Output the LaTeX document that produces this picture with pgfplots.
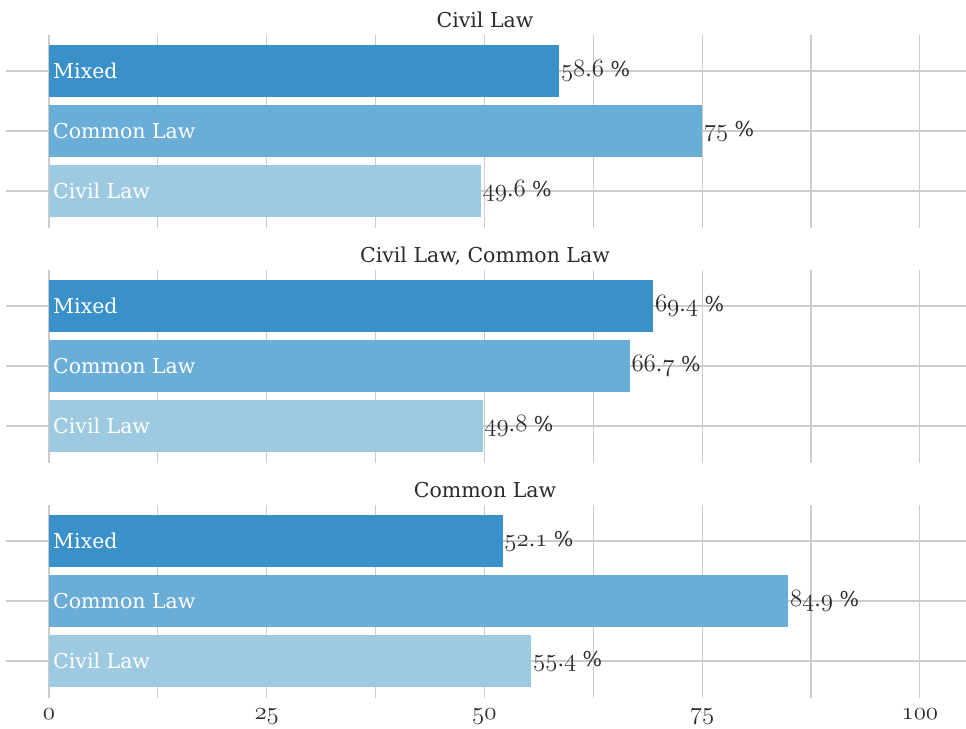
\documentclass[border=0pt]{standalone}
\usepackage{fontspec}
\setmainfont{DejaVu Serif}
\usepackage{pgfplots}
\pgfplotsset{compat=1.18}
\definecolor{cMixed}{HTML}{3A90C8}
\definecolor{cCommon}{HTML}{6AADD6}
\definecolor{cCivil}{HTML}{9ECAE1}
\definecolor{gridc}{HTML}{CCCCCC}
\definecolor{txt}{HTML}{2B2B2B}
\newcommand\fs{\fontsize{20.5}{25}\selectfont}
\newcommand\osn[1]{{\fontencoding{OML}\fontfamily{lmm}\fontseries{b}\fontshape{it}\fontsize{24}{28}\selectfont #1}}
\newcommand\val[2]{\osn{#1}.\osn{#2} \%}
\tikzset{cat/.style={anchor=west, font=\fs, text=white, inner sep=0pt, xshift=4pt}}
\pgfplotsset{
 panel/.style={
  width=917pt, height=193pt, scale only axis,
  xmin=0, xmax=105.3, ymin=-0.617, ymax=2.6,
  xbar, bar width=0.867, bar shift=0pt,
  xtick={0,25,50,75,100}, minor xtick={12.5,37.5,62.5,87.5},
  ytick={0,1,2}, yticklabels={},
  xmajorgrids, xminorgrids, ymajorgrids,
  major grid style={gridc, line width=1.2pt},
  minor grid style={gridc, line width=1.2pt},
  axis line style={draw=none},
  tick align=outside, ytick pos=left, major tick length=43pt, minor tick length=0pt,
  ytick style={gridc, line width=1.2pt},
  xtick style={draw=none},
  title style={font=\fs, text=txt, anchor=base, xshift=-22.5pt, yshift=2pt},
  every node near coord/.append style={font=\fs, text=txt, inner sep=1.5pt, anchor=west},
  ticklabel style={font=\fs, text=txt},
  xticklabel style={yshift=36pt},
  xticklabels={},
 },
}
\begin{document}
\begin{tikzpicture}
\path[use as bounding box] (-49pt,35pt) rectangle (917pt,-693pt);
% Panel 1
\begin{axis}[panel, at={(0pt,0pt)}, anchor=north west, title={Civil Law}]
\addplot[fill=cCivil, draw=none, nodes near coords={\val{49}{6}}] coordinates {(49.6,0)};
\addplot[fill=cCommon, draw=none, nodes near coords={\osn{75} \%}] coordinates {(75,1)};
\addplot[fill=cMixed, draw=none, nodes near coords={\val{58}{6}}] coordinates {(58.6,2)};
\node[cat] at (axis cs:0,2) {Mixed};
\node[cat] at (axis cs:0,1) {Common Law};
\node[cat] at (axis cs:0,0) {Civil Law};
\end{axis}
% Panel 2
\begin{axis}[panel, at={(0pt,-235pt)}, anchor=north west, title={Civil Law, Common Law}]
\addplot[fill=cCivil, draw=none, nodes near coords={\val{49}{8}}] coordinates {(49.8,0)};
\addplot[fill=cCommon, draw=none, nodes near coords={\val{66}{7}}] coordinates {(66.7,1)};
\addplot[fill=cMixed, draw=none, nodes near coords={\val{69}{4}}] coordinates {(69.4,2)};
\node[cat] at (axis cs:0,2) {Mixed};
\node[cat] at (axis cs:0,1) {Common Law};
\node[cat] at (axis cs:0,0) {Civil Law};
\end{axis}
% Panel 3
\begin{axis}[panel, at={(0pt,-470pt)}, anchor=north west, title={Common Law},
  xticklabels={\osn{0},\osn{25},\osn{50},\osn{75},\osn{100}}]
\addplot[fill=cCivil, draw=none, nodes near coords={\val{55}{4}}] coordinates {(55.4,0)};
\addplot[fill=cCommon, draw=none, nodes near coords={\val{84}{9}}] coordinates {(84.9,1)};
\addplot[fill=cMixed, draw=none, nodes near coords={\val{52}{1}}] coordinates {(52.1,2)};
\node[cat] at (axis cs:0,2) {Mixed};
\node[cat] at (axis cs:0,1) {Common Law};
\node[cat] at (axis cs:0,0) {Civil Law};
\end{axis}
\end{tikzpicture}
\end{document}
